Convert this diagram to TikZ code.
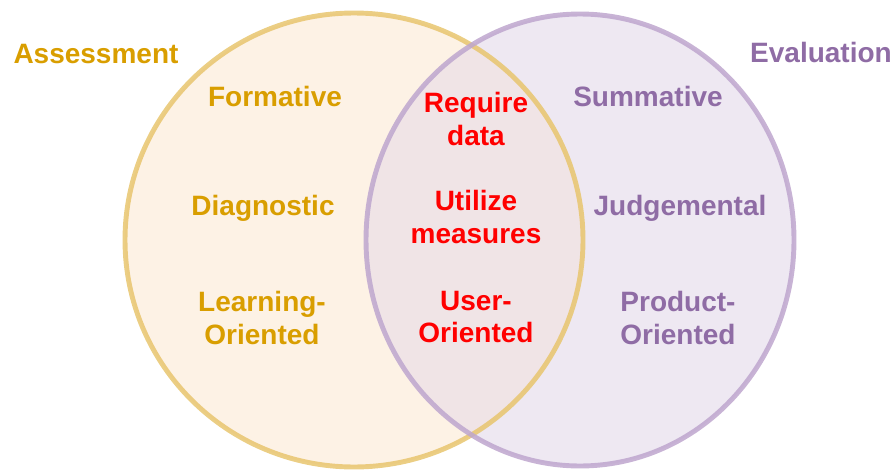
\documentclass[tikz,border=0pt]{standalone}
\usepackage{fontspec}
\setmainfont{Liberation Sans}
\definecolor{assesstext}{RGB}{217,158,0}
\definecolor{assessfill}{RGB}{253,242,229}
\definecolor{assessline}{RGB}{232,197,110}
\definecolor{evaltext}{RGB}{143,108,165}
\definecolor{evalfill}{RGB}{238,232,242}
\definecolor{evalline}{RGB}{190,166,206}
\definecolor{bothfill}{RGB}{240,228,230}
\definecolor{bothtext}{RGB}{255,0,0}

\begin{document}
\begin{tikzpicture}[x = 0.03cm, y = -0.03cm,
		lbl/.style = {font = \bfseries\fontsize{23.9}{27.8}\selectfont, align = center, inner sep = 0pt}]
	\useasboundingbox (0, 0) rectangle (895, 472);

	% the two sets
	\fill[assessfill] (354, 240) ellipse [x radius = 229, y radius = 227];
	\fill[evalfill] (580, 240) ellipse [x radius = 214, y radius = 226];
	\begin{scope}
		\clip (354, 240) ellipse [x radius = 229, y radius = 227];
		\fill[bothfill] (580, 240) ellipse [x radius = 214, y radius = 226];
	\end{scope}
	\draw[assessline, line width = 4.2pt, draw opacity = 0.85] (354, 240) ellipse [x radius = 229, y radius = 227];
	\draw[evalline, line width = 4.2pt, draw opacity = 0.85] (580, 240) ellipse [x radius = 214, y radius = 226];

	% titles
	\node[lbl, assesstext] (assess) at (96, 54){Assessment};
	\node[lbl, evaltext] (eval) at (821, 52){Evaluation};

	% assessment only
	\node[lbl, assesstext] (formative) at (275, 96){Formative};
	\node[lbl, assesstext] (diagnostic) at (263, 208){Diagnostic};
	\node[lbl, assesstext] (learning) at (262, 318){Learning-\\Oriented};

	% both
	\node[lbl, bothtext] (data) at (476, 119){Require\\data};
	\node[lbl, bothtext] (measures) at (476, 217){Utilize\\measures};
	\node[lbl, bothtext] (user) at (476, 317){User-\\Oriented};

	% evaluation only
	\node[lbl, evaltext] (summative) at (648, 96){Summative};
	\node[lbl, evaltext] (judgemental) at (680, 208){Judgemental};
	\node[lbl, evaltext] (product) at (678, 318){Product-\\Oriented};
\end{tikzpicture}
\end{document}
